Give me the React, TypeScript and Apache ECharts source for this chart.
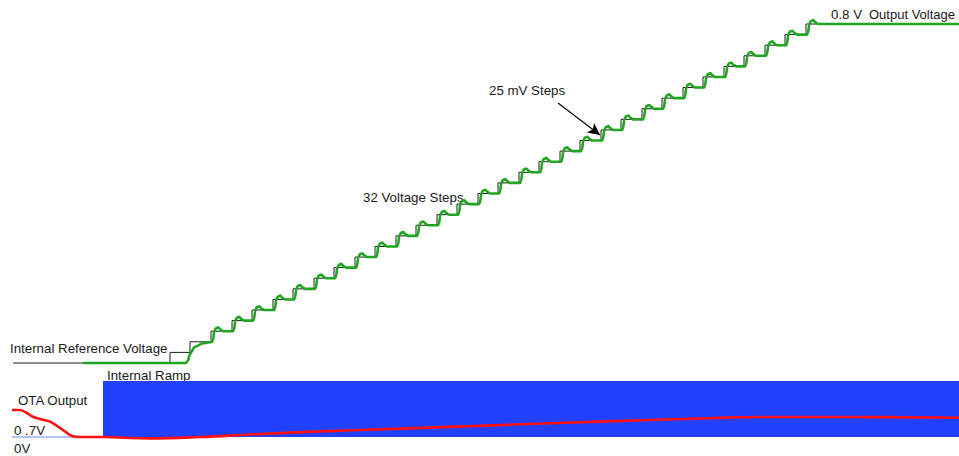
import React, { useEffect, useRef } from "react";
import * as echarts from "echarts";

// ---- Top panel: internal reference (staircase) and output voltage ----
const refStartX = 13;
const refEndX = 959;
const stepTimes = [170, 190, 211, 232, 252, 273, 293, 314, 334, 355, 375, 396, 416, 437, 457, 478, 498, 519, 539, 560, 580, 601, 621, 642, 662, 683, 703, 724, 744, 765, 785, 806];
const stepLevels = [0.025, 0.05, 0.075, 0.1, 0.125, 0.15, 0.175, 0.2, 0.225, 0.25, 0.275, 0.3, 0.325, 0.35, 0.375, 0.4, 0.425, 0.45, 0.475, 0.5, 0.525, 0.55, 0.575, 0.6, 0.625, 0.65, 0.675, 0.7, 0.725, 0.75, 0.775, 0.8];
const stepSize = 0.025;

// output voltage: flat start, soft start over the first two steps
const outStartX = 83;
const softStartX = [186, 188, 190, 195, 203, 210];
const softStartV = [0, 0.006, 0.022, 0.0385, 0.0465, 0.049];
// response shape after each later step (time offset, level offset in steps)
const bumpDx = [1, 2, 3.3, 5, 7.3, 9.5, 12];
const bumpDy = [-1, -0.85, 0, 0.28, 0.36, 0.15, 0];
const firstBumpIndex = 2;

// arrow "25 mV Steps"
const arrowFrom = [558, 0.6136];
const arrowTo = [600, 0.538];

// ---- Bottom panel: internal ramp and OTA output (arbitrary units) ----
const rampFlatX = [12, 103];
const rampLow = 20;
const rampHigh = 100;
const rampStartX = 103;
const rampEndX = 959;
const otaX = [12, 20, 26, 33, 42, 50, 60, 66, 72, 80, 105, 130, 150, 200, 250, 320, 400, 500, 600, 700, 760, 850, 959];
const otaY = [58.6, 58.6, 55, 49, 45, 41.9, 32.9, 27, 21.4, 20, 20, 18.5, 18.1, 20, 23.5, 28, 32, 37, 42, 46.5, 48.5, 48.5, 47.6];

const FONT = '13.3px "Liberation Sans", Arial, sans-serif';
const FONT_SMALL = '13px "Liberation Sans", Arial, sans-serif';

export default function App() {
  const ref = useRef<HTMLDivElement>(null);
  useEffect(() => {
    if (!ref.current) return;
    const chart = echarts.init(ref.current, undefined, { renderer: "svg" });

    const refData: number[][] = [[refStartX, 0]];
    stepTimes.forEach((t, i) => refData.push([t, stepLevels[i]]));
    refData.push([refEndX, stepLevels[stepLevels.length - 1]]);

    const outData: number[][] = [[outStartX, 0]];
    softStartX.forEach((x, i) => outData.push([x, softStartV[i]]));
    for (let i = firstBumpIndex; i < stepTimes.length; i++) {
      bumpDx.forEach((dx, k) => outData.push([stepTimes[i] + dx, stepLevels[i] + bumpDy[k] * stepSize]));
    }
    outData.push([refEndX, stepLevels[stepLevels.length - 1]]);

    const otaData = otaX.map((x, i) => [x, otaY[i]]);
    const rampData = rampFlatX.map((x) => [x, rampLow]);

    const text = (t: string, x: number, y: number, font: string = FONT) => ({
      type: "text",
      x,
      y,
      silent: true,
      style: { text: t, font, fill: "#1a1a1a", align: "left", verticalAlign: "middle" },
    });

    chart.setOption({
      animation: false,
      grid: [
        { left: 0, width: 959, top: 2.8, height: 360.2 },
        { left: 0, width: 959, top: 381, height: 70 },
      ],
      xAxis: [
        { type: "value", gridIndex: 0, min: 0, max: 959, show: false },
        { type: "value", gridIndex: 1, min: 0, max: 959, show: false },
      ],
      yAxis: [
        { type: "value", gridIndex: 0, min: 0, max: 0.85, show: false },
        { type: "value", gridIndex: 1, min: 0, max: 100, show: false },
      ],
      series: [
        {
          name: "Internal Reference Voltage",
          type: "line",
          xAxisIndex: 0,
          yAxisIndex: 0,
          step: "end",
          data: refData,
          symbol: "none",
          clip: false,
          lineStyle: { color: "#1e1e1e", width: 1 },
          z: 2,
          markLine: {
            silent: true,
            symbol: ["none", "arrow"],
            symbolSize: [9, 12],
            label: { show: false },
            lineStyle: { color: "#000", width: 1.2, type: "solid" },
            data: [[{ coord: arrowFrom }, { coord: arrowTo }]],
          },
        },
        {
          name: "Output Voltage",
          type: "line",
          xAxisIndex: 0,
          yAxisIndex: 0,
          data: outData,
          symbol: "none",
          smooth: 0.3,
          smoothMonotone: "x",
          clip: false,
          lineStyle: { color: "#1fa51f", width: 2.6 },
          z: 3,
        },
        {
          name: "Internal Ramp",
          type: "line",
          xAxisIndex: 1,
          yAxisIndex: 1,
          data: rampData,
          symbol: "none",
          lineStyle: { color: "#6f86ff", width: 1 },
          z: 2,
          markArea: {
            silent: true,
            itemStyle: { color: "#2141ff", opacity: 1 },
            data: [[{ coord: [rampStartX, rampLow] }, { coord: [rampEndX, rampHigh] }]],
          },
        },
        {
          name: "OTA Output",
          type: "line",
          xAxisIndex: 1,
          yAxisIndex: 1,
          data: otaData,
          symbol: "none",
          smooth: 0.4,
          lineStyle: { color: "#ff1010", width: 2.6 },
          z: 4,
        },
      ],
      graphic: [
        text("Internal Reference Voltage", 10, 348),
        text("32 Voltage Steps", 363, 197),
        text("25 mV Steps", 489, 90),
        text("0.8 V", 831, 14),
        text("Output Voltage", 869, 14, FONT_SMALL),
        text("Internal Ramp", 107, 375),
        text("OTA Output", 18, 400),
        text("0 .7V", 14, 430),
        text("0V", 14, 448),
      ],
    });
    return () => chart.dispose();
  }, []);
  return (
    <div
      ref={ref}
      style={{ position: "fixed", left: 0, top: 0, width: 959, height: 456, background: "#fff" }}
    />
  );
}
